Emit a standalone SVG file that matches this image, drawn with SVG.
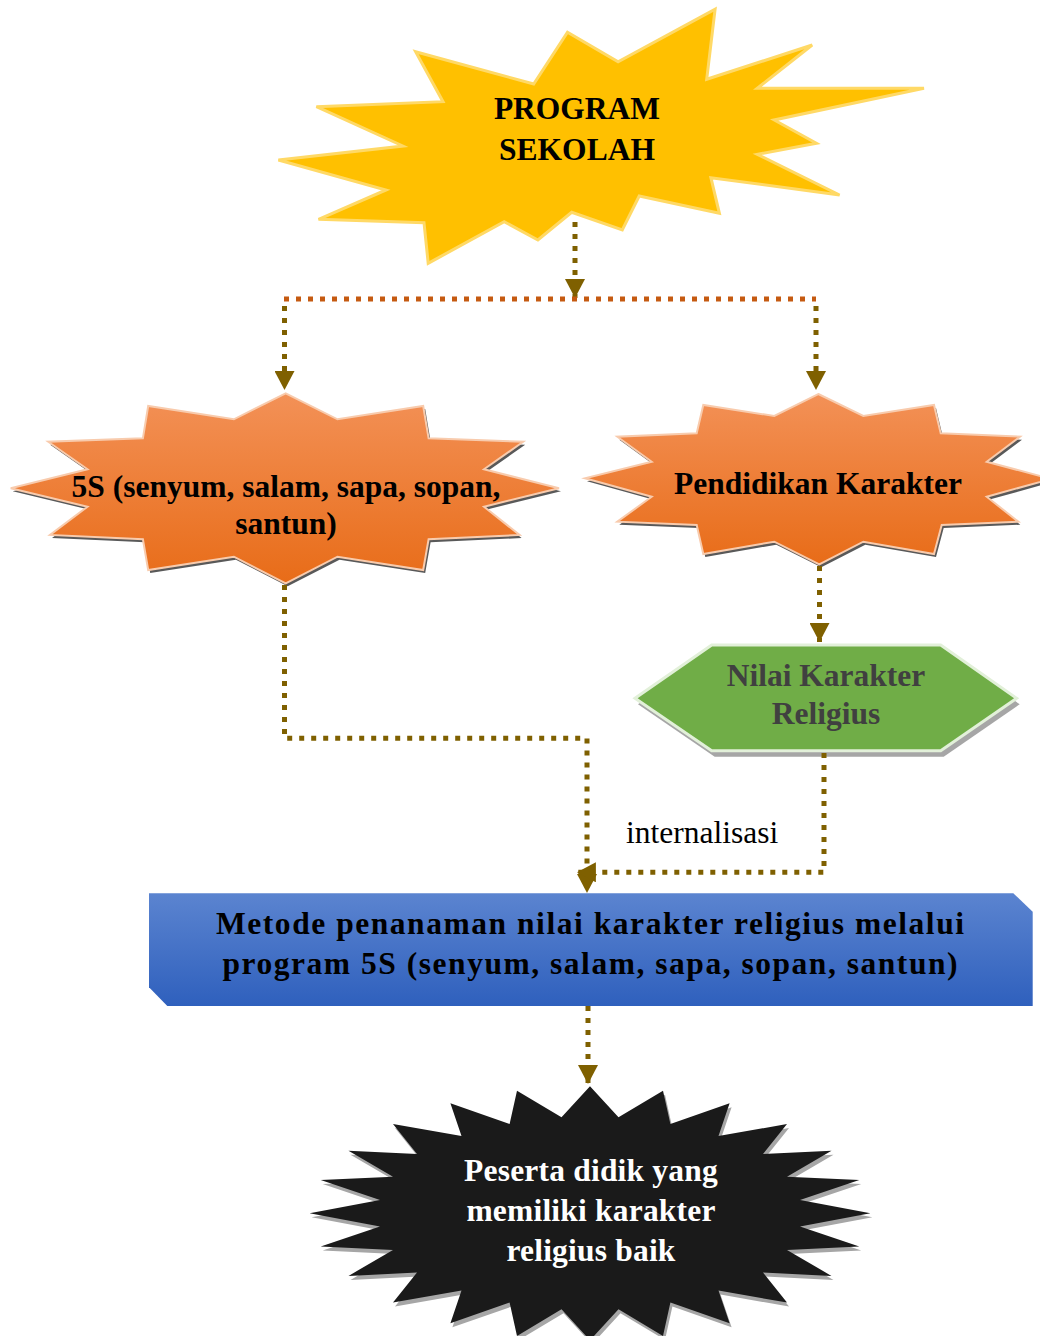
<svg xmlns="http://www.w3.org/2000/svg" xmlns:xlink="http://www.w3.org/1999/xlink" width="1040" height="1336" viewBox="0 0 1040 1336">
<defs>
<style>
.t{font-family:"Liberation Serif","Times New Roman",serif;font-weight:bold;font-size:31.5px;text-anchor:middle}
.lbl{font-family:"Liberation Serif","Times New Roman",serif;font-size:31.5px}
.c{fill:none;stroke:#7F6000;stroke-width:5;stroke-dasharray:5 7}
.co{fill:none;stroke:#C55A11;stroke-width:5;stroke-dasharray:5 7}
.orange{fill:url(#gOrange);stroke:#F8CBAD;stroke-width:2;stroke-linejoin:miter}
.oshadow{fill:#595959}
</style>
<linearGradient id="gOrange" x1="0" y1="0" x2="0" y2="1">
<stop offset="0" stop-color="#F39157"/>
<stop offset="1" stop-color="#E86C18"/>
</linearGradient>
<linearGradient id="gBlue" x1="0" y1="0" x2="0" y2="1">
<stop offset="0" stop-color="#5B84D0"/>
<stop offset="1" stop-color="#2F60BD"/>
</linearGradient>
<marker id="arr" markerUnits="userSpaceOnUse" markerWidth="20" markerHeight="20" viewBox="0 0 18 18" refX="17" refY="9" orient="auto">
<path d="M0,0 L17,9 L0,18 Z" fill="#7F6000"/>
</marker>
<polygon id="starL" points="285.7,393.3 337.5,419.3 423.2,406 428.6,438.3 523.2,441.7 484,469.3 559,488.3 484,506.7 519.6,535 428.6,539.3 423.2,570 337.5,556.7 285.7,583.3 233.9,556.7 148.2,570 142.9,539.3 50,535 87.5,506.7 10.7,488.3 87.5,469.3 48.2,441.7 142.9,438.3 148.2,406 233.9,419.3"/>
<polygon id="starR" points="818.3,394 863.3,416 934,405 940.7,433.3 1020,436.7 986.7,461.7 1051,479 986.7,496.7 1018.3,521.7 941.7,525 934,554 863.3,541.7 819.3,564.3 774.3,541.7 703.3,554 696.7,525 617.3,521.7 651.7,496.7 585,478.3 651.7,461.7 617.3,436.7 696.7,433.3 703.3,405 774.3,416"/>
<polygon id="hex" points="635,698.3 711.7,645 940.7,645 1016.7,698.3 940.7,750.7 711.7,750.7"/>
<polygon id="starB" points="590,1086.3 618.5,1117.3 663,1090.7 670.4,1124 729.6,1103.3 718.5,1136 787,1124 763,1154 831.5,1150.7 787,1176.7 859.3,1180 800,1200 870.4,1213.3 800,1226.6 859.3,1246.6 787,1249.9 831.5,1275.9 763,1272.6 787,1302.6 718.5,1290.6 729.6,1323.3 670.4,1302.6 663,1335.9 618.5,1309.3 590,1340.3 561.5,1309.3 517,1335.9 509.6,1302.6 450.4,1323.3 461.5,1290.6 393,1302.6 417,1272.6 348.5,1275.9 393,1249.9 320.7,1246.6 380,1226.6 309.6,1213.3 380,1200 320.7,1180 393,1176.7 348.5,1150.7 417,1154 393,1124 461.5,1136 450.4,1103.3 509.6,1124 517,1090.7 561.5,1117.3"/>
</defs>
<rect width="1040" height="1336" fill="#FFFFFF"/>

<g id="program-sekolah">
<polygon points="415.6,51.7 533.7,84 567.5,32.3 618.1,61.7 715.1,9.3 706.7,79.3 812.2,45 757.3,88.3 924,88.3 774.2,120 816.4,143.3 757.3,154.3 839.6,195 710.9,177.7 719.4,213.3 639.2,196 622.3,230 571.7,212.3 537.9,240 504.2,221.7 428.2,263.3 424,222.7 318.5,219.3 386,190 278.4,160 402.9,146 316.4,106.7 443,101.7" fill="#FFC000" stroke="#FFD966" stroke-width="3"/>
<text class="t" x="577" y="119" fill="#000">PROGRAM</text>
<text class="t" x="577" y="160" fill="#000">SEKOLAH</text>
</g>

<g id="lima-s">
<use xlink:href="#starL" href="#starL" class="oshadow" transform="translate(2,3)"/>
<use xlink:href="#starL" href="#starL" class="orange"/>
<text class="t" x="286" y="497" fill="#000">5S (senyum, salam, sapa, sopan,</text>
<text class="t" x="286" y="534" fill="#000">santun)</text>
</g>

<g id="pendidikan-karakter">
<use xlink:href="#starR" href="#starR" class="oshadow" transform="translate(2,3)"/>
<use xlink:href="#starR" href="#starR" class="orange"/>
<text class="t" x="818" y="494" fill="#000">Pendidikan Karakter</text>
</g>

<g id="nilai-karakter">
<use xlink:href="#hex" href="#hex" fill="#A6A6A6" transform="translate(3,6)"/>
<use xlink:href="#hex" href="#hex" fill="#70AD47" stroke="#E2F0D9" stroke-width="3"/>
<text class="t" x="826" y="686" fill="#404040">Nilai Karakter</text>
<text class="t" x="826" y="724" fill="#404040">Religius</text>
</g>

<g id="metode">
<polygon points="149,893.3 1013.3,893.3 1032.7,911.7 1032.7,1006 167.3,1006 149,987.3" fill="url(#gBlue)"/>
<text class="t" x="590" y="934" fill="#000" textLength="748" lengthAdjust="spacing">Metode penanaman nilai karakter religius melalui</text>
<text class="t" x="590" y="974" fill="#000" textLength="735" lengthAdjust="spacing">program 5S (senyum, salam, sapa, sopan, santun)</text>
</g>

<g id="peserta-didik">
<use xlink:href="#starB" href="#starB" fill="#A6A6A6" transform="translate(2,4)"/>
<use xlink:href="#starB" href="#starB" fill="#1A1A1A"/>
<text class="t" x="591" y="1181" fill="#FFFFFF" letter-spacing="0.2">Peserta didik yang</text>
<text class="t" x="591" y="1221" fill="#FFFFFF" letter-spacing="0.2">memiliki karakter</text>
<text class="t" x="591" y="1261" fill="#FFFFFF" letter-spacing="0.2">religius baik</text>
</g>

<g id="connectors">
<path class="c" d="M575,222 V298" marker-end="url(#arr)"/>
<path class="co" d="M284,299 H816"/>
<path class="c" d="M284.5,306 V390" marker-end="url(#arr)"/>
<path class="c" d="M816,306 V390" marker-end="url(#arr)"/>
<path class="c" d="M284.5,585 V738.3 H587 V893" marker-end="url(#arr)"/>
<path class="c" d="M819.5,566 V642" marker-end="url(#arr)"/>
<path class="c" d="M824,753 V872.3 H577" marker-end="url(#arr)"/>
<path class="c" d="M588,1006 V1084" marker-end="url(#arr)"/>
<text class="lbl" x="626" y="843" fill="#000">internalisasi</text>
</g>
</svg>
